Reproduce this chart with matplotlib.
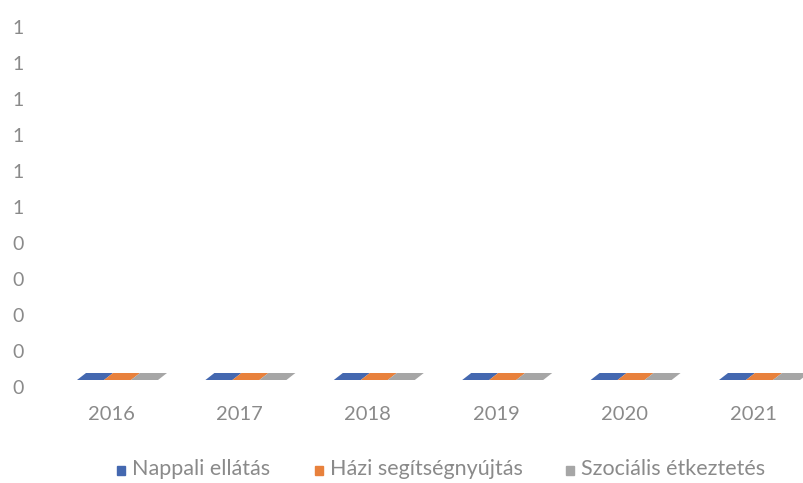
import matplotlib
matplotlib.use('Agg')
import matplotlib.pyplot as plt
import numpy as np
from matplotlib.patches import Polygon, Rectangle

years = ['2016', '2017', '2018', '2019', '2020', '2021']
series_names = ['Nappali ellátás', 'Házi segítségnyújtás', 'Szociális étkeztetés']
nappali = [0, 0, 0, 0, 0, 0]
hazi = [0, 0, 0, 0, 0, 0]
szocialis = [0, 0, 0, 0, 0, 0]
yticks = np.arange(0, 1.01, 0.1)

colors = ['#4468b0', '#e8813c', '#a6a6a6']
text_col = '#8a8a8a'
plt.rcParams['font.family'] = ['Lato', 'DejaVu Sans']

W, H = 804, 483
fig = plt.figure(figsize=(W / 100, H / 100), dpi=100)

# pixel layout: value 0 at y=387, value 1 at y=27, category i at x=111+128.4*i
px_x = 128.4
px_y = 360.0
left_px = 40
ax = fig.add_axes([left_px / W, (H - 387) / H, (W - left_px) / W, px_y / H])
ax.set_xlim((left_px - 111) / px_x, (W - 111) / px_x)
ax.set_ylim(0, 1)
for s in ax.spines.values():
    s.set_visible(False)

# axis labels are rounded to whole numbers (half rounds up)
ax.set_yticks(yticks)
ax.set_yticklabels([str(int(np.floor(t + 0.5 + 1e-9))) for t in yticks])
ax.set_xticks(range(len(years)))
ax.set_xticklabels(years)
ax.tick_params(axis='y', length=0, pad=12, labelsize=14, labelcolor=text_col)
ax.tick_params(axis='x', length=0, pad=14, labelsize=14.5, labelcolor=text_col)

# 3D-style bars (flat, values are zero): draw top faces as parallelograms
ux, uy = 1 / px_x, 1 / px_y
seg_w = 27 * ux
dx, dy = 9 * ux, 7 * uy
base = 7 * uy
for j, vals in enumerate([nappali, hazi, szocialis]):
    for i, v in enumerate(vals):
        xl = i + (77 - 111) * ux + j * seg_w
        y0 = base + v
        ax.add_patch(Rectangle((xl, base), seg_w, v, color=colors[j], lw=0))
        ax.add_patch(Polygon([(xl, y0), (xl + seg_w, y0), (xl + seg_w + dx, y0 + dy),
                              (xl + dx, y0 + dy)], closed=True, color=colors[j], lw=0))

# legend
sq_x = [117, 315, 566]
for name, c, x in zip(series_names, colors, sq_x):
    fig.patches.append(Rectangle((x / W, (H - 475) / H), 8 / W, 9 / H, color=c,
                                 transform=fig.transFigure, figure=fig))
    fig.text((x + 15) / W, (H - 469) / H, name, color=text_col, fontsize=15.5,
             ha='left', va='center')

fig.savefig('out.png', dpi=100)
